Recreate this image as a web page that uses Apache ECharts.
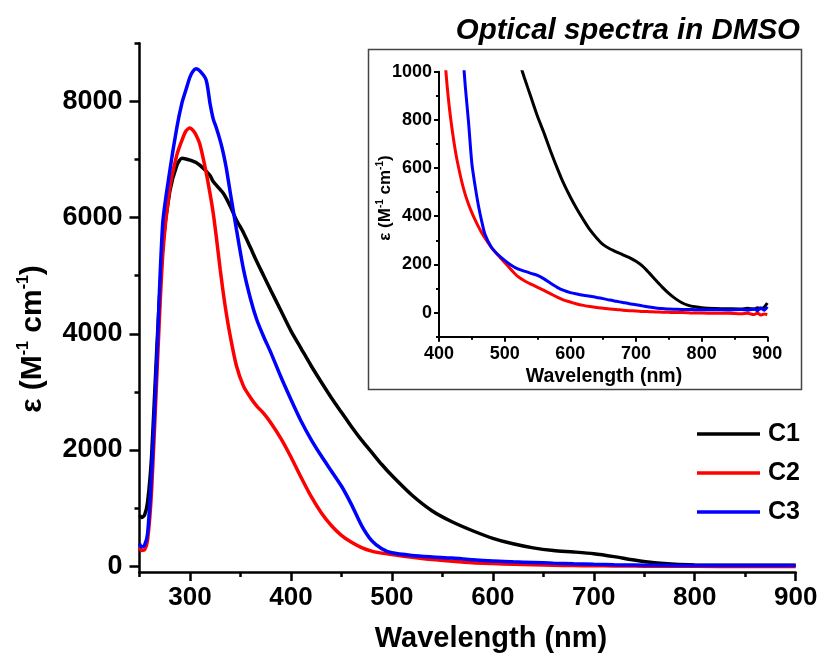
<!DOCTYPE html>
<html>
<head>
<meta charset="utf-8">
<script src="https://cdn.jsdelivr.net/npm/echarts@6/dist/echarts.min.js"></script>
<style>
  html, body { margin: 0; padding: 0; background: #fff; }
  #chart { width: 825px; height: 657px; }
</style>
</head>
<body>
<div id="chart"></div>
<script>
// Absorption spectra (molar absorptivity, M^-1 cm^-1) of C1, C2, C3 in DMSO
const wavelength = [250, 252, 255, 258, 262, 267, 273, 280, 287, 292, 296, 300, 303, 306, 310, 316, 320, 323, 326, 330,
  333, 336, 340, 346, 353, 360, 366, 373, 380, 390, 400, 410, 420, 430, 440, 450, 460, 470, 480, 490,
  500, 520, 540, 560, 580, 600, 620, 640, 660, 680, 700, 720, 740, 760, 780, 800, 850, 900];

const c1 = [880, 840, 880, 1100, 1900, 3700, 5500, 6450, 6900, 7020, 7010, 6990, 6970, 6950, 6900, 6800, 6720, 6620, 6560, 6480,
  6420, 6330, 6190, 5960, 5740, 5480, 5250, 5000, 4750, 4400, 4050, 3750, 3450, 3170, 2900, 2650, 2400, 2170, 1960, 1750,
  1560, 1220, 950, 760, 610, 480, 385, 315, 270, 245, 215, 165, 105, 58, 32, 22, 15, 15];

const c2 = [330, 270, 280, 450, 1300, 3200, 5350, 6500, 7080, 7330, 7490, 7540, 7500, 7420, 7250, 6780, 6400, 6080, 5680, 5100,
  4700, 4350, 3950, 3450, 3100, 2900, 2760, 2630, 2470, 2200, 1880, 1530, 1200, 920, 700, 530, 410, 320, 260, 225,
  200, 155, 115, 85, 60, 45, 32, 24, 16, 10, 7, 4, 2, 0, -2, -3, -4, -5];

const c3 = [390, 330, 360, 560, 1600, 3500, 5900, 6800, 7550, 7970, 8200, 8420, 8520, 8560, 8520, 8370, 7950, 7700, 7550, 7320,
  7110, 6850, 6420, 5800, 5110, 4600, 4250, 3950, 3680, 3260, 2870, 2500, 2180, 1900, 1640, 1380, 1060, 700, 440, 300,
  230, 185, 160, 140, 110, 88, 75, 64, 52, 42, 33, 25, 20, 16, 14, 13, 12, 12];

// Low-absorbance region (inset, 400-900 nm)
const insetWavelength = [400, 405, 410, 415, 420, 425, 430, 435, 440, 445, 450, 455, 460, 465, 470, 480, 490, 500, 510, 520,
  530, 540, 550, 560, 570, 580, 590, 600, 610, 620, 630, 640, 650, 660, 670, 680, 690, 700, 710, 720,
  730, 740, 750, 760, 770, 780, 790, 800, 820, 840, 860, 870, 880, 885, 890, 895, 900];

const insetC1 = [3000, 2880, 2760, 2630, 2500, 2400, 2300, 2200, 2100, 2010, 1930, 1840, 1750, 1670, 1600, 1450, 1340, 1250, 1150, 1060,
  975, 895, 815, 745, 670, 600, 535, 480, 430, 385, 343, 310, 282, 265, 252, 240, 228, 213, 193, 165,
  135, 106, 80, 58, 41, 30, 24, 20, 17, 16, 15, 18, 14, 20, 16, 22, 40];

const insetC2 = [1500, 1250, 1020, 870, 760, 670, 600, 540, 490, 450, 415, 385, 357, 332, 310, 270, 238, 208, 178, 150,
  132, 118, 105, 92, 78, 64, 52, 44, 36, 30, 25, 21, 18, 15, 13, 10, 8, 7, 5, 4,
  3, 2, 1, 0, 0, -1, -2, -2, -3, -3, -5, -3, -8, -2, -10, -6, -8];

const insetC3 = [2700, 2500, 2300, 2100, 1900, 1700, 1400, 1130, 940, 790, 620, 525, 445, 380, 325, 270, 240, 217, 197, 182,
  172, 163, 155, 140, 122, 105, 92, 83, 77, 72, 68, 63, 58, 52, 47, 42, 37, 33, 28, 23,
  19, 17, 15, 14, 13, 13, 12, 12, 12, 11, 13, 10, 16, 8, 20, 10, 25];

// Tick positions
const xTicks = [300, 400, 500, 600, 700, 800, 900];
const xMinorTicks = [250, 350, 450, 550, 650, 750, 850];
const yTicks = [0, 2000, 4000, 6000, 8000];
const yMinorTicks = [1000, 3000, 5000, 7000, 9000];
const insetXTicks = [400, 500, 600, 700, 800, 900];
const insetXMinorTicks = [450, 550, 650, 750, 850];
const insetYTicks = [0, 200, 400, 600, 800, 1000];
const insetYMinorTicks = [-100, 100, 300, 500, 700, 900];

const seriesNames = ['C1', 'C2', 'C3'];
const seriesColors = ['#000000', '#ff0000', '#0000ff'];

const FONT = '"Liberation Sans", Arial, sans-serif';

const pairs = (xs, ys) => xs.map((x, i) => [x, ys[i]]);

function axis(gridIndex, position, min, max, major, minor, opts) {
  return [
    {
      type: 'value', gridIndex, position, min, max,
      axisLine: { show: true, onZero: false, lineStyle: { color: '#000', width: opts.lineWidth } },
      axisTick: { show: true, inside: false, customValues: major, length: opts.tickLen, lineStyle: { color: '#000', width: opts.lineWidth } },
      axisLabel: {
        show: true, customValues: major, margin: opts.margin, formatter: (v) => String(v),
        fontFamily: FONT, fontWeight: 'bold', fontSize: opts.fontSize, color: '#000'
      },
      splitLine: { show: false }
    },
    {
      type: 'value', gridIndex, position, min, max,
      axisLine: { show: false, onZero: false },
      axisTick: { show: true, inside: false, customValues: minor, length: opts.minorLen, lineStyle: { color: '#000', width: opts.lineWidth } },
      axisLabel: { show: false },
      splitLine: { show: false }
    }
  ];
}

const mainX = axis(0, 'bottom', 250, 900, xTicks, xMinorTicks, { lineWidth: 2.5, tickLen: 9, minorLen: 5, margin: 13, fontSize: 26 });
const mainY = axis(0, 'left', -100, 9000, yTicks, yMinorTicks, { lineWidth: 2.5, tickLen: 10, minorLen: 5, margin: 17, fontSize: 27 });
const insetX = axis(1, 'bottom', 400, 900, insetXTicks, insetXMinorTicks, { lineWidth: 2, tickLen: 5, minorLen: 3, margin: 8, fontSize: 18 });
const insetY = axis(1, 'left', -100, 1000, insetYTicks, insetYMinorTicks, { lineWidth: 2, tickLen: 5, minorLen: 3, margin: 7, fontSize: 18 });

const mainData = [c1, c2, c3];
const insetData = [insetC1, insetC2, insetC3];

const series = [];
seriesNames.forEach((name, i) => {
  series.push({
    name, type: 'line', xAxisIndex: 0, yAxisIndex: 0,
    data: pairs(wavelength, mainData[i]),
    showSymbol: false, smooth: 0.25,
    lineStyle: { color: seriesColors[i], width: 3.5 },
    itemStyle: { color: seriesColors[i] },
    z: i === 2 ? 4 : 3
  });
});
seriesNames.forEach((name, i) => {
  series.push({
    name, type: 'line', xAxisIndex: 2, yAxisIndex: 2,
    data: pairs(insetWavelength, insetData[i]),
    showSymbol: false, smooth: 0.25, clip: true,
    lineStyle: { color: seriesColors[i], width: 3 },
    itemStyle: { color: seriesColors[i] },
    z: 3
  });
});

const chart = echarts.init(document.getElementById('chart'), null, { renderer: 'canvas' });

chart.setOption({
  backgroundColor: '#ffffff',
  animation: false,
  title: {
    text: 'Optical spectra in DMSO',
    right: 25, top: 16, padding: 0,
    textStyle: { fontFamily: FONT, fontWeight: 'bold', fontStyle: 'italic', fontSize: 29.5, color: '#000' }
  },
  legend: {
    orient: 'vertical', left: 692, top: 416,
    icon: 'rect', itemWidth: 63, itemHeight: 3.5, itemGap: 13,
    selectedMode: false,
    data: seriesNames,
    textStyle: { fontFamily: FONT, fontWeight: 'bold', fontSize: 25, color: '#000', lineHeight: 26, padding: [0, 0, 0, 3] }
  },
  grid: [
    { left: 139.5, top: 43.3, width: 656.2, height: 528.7, containLabel: false },
    { left: 439, top: 71.7, width: 328.3, height: 265, containLabel: false }
  ],
  xAxis: [...mainX, ...insetX],
  yAxis: [...mainY, ...insetY],
  series,
  graphic: [
    {
      type: 'rect', z: 1, silent: true,
      shape: { x: 368.5, y: 49.5, width: 433, height: 340 },
      style: { fill: 'transparent', stroke: '#444', lineWidth: 1.5 }
    },
    {
      type: 'text', x: 491, y: 639, silent: true,
      style: { text: 'Wavelength (nm)', fontFamily: FONT, fontWeight: 'bold', fontSize: 29, fill: '#000', align: 'center', verticalAlign: 'middle' }
    },
    {
      type: 'text', x: 33, y: 339, rotation: Math.PI / 2, silent: true,
      style: {
        text: '{b|ε (M}{s|-1}{b| cm}{s|-1}{b|)}',
        align: 'center', verticalAlign: 'middle',
        rich: {
          b: { fontFamily: FONT, fontWeight: 'bold', fontSize: 30, lineHeight: 34, fill: '#000' },
          s: { fontFamily: FONT, fontWeight: 'bold', fontSize: 16, lineHeight: 34, verticalAlign: 'top', fill: '#000' }
        }
      }
    },
    {
      type: 'text', x: 604, y: 377, silent: true,
      style: { text: 'Wavelength (nm)', fontFamily: FONT, fontWeight: 'bold', fontSize: 19.5, fill: '#000', align: 'center', verticalAlign: 'middle' }
    },
    {
      type: 'text', x: 385, y: 198, rotation: Math.PI / 2, silent: true,
      style: {
        text: '{b|ε (M}{s|-1}{b| cm}{s|-1}{b|)}',
        align: 'center', verticalAlign: 'middle',
        rich: {
          b: { fontFamily: FONT, fontWeight: 'bold', fontSize: 17, lineHeight: 20, fill: '#000' },
          s: { fontFamily: FONT, fontWeight: 'bold', fontSize: 10, lineHeight: 20, verticalAlign: 'top', fill: '#000' }
        }
      }
    }
  ]
});
</script>
</body>
</html>
